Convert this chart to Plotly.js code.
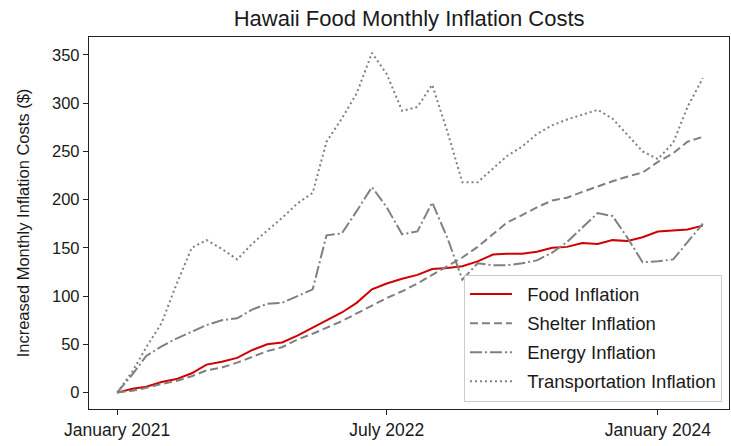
<!DOCTYPE html>
<html>
<head>
<meta charset="utf-8">
<script src="https://cdn.plot.ly/plotly-3.0.1.min.js"></script>
<style>html,body{margin:0;padding:0;background:#fff;}#chart{width:731px;height:446px;}</style>
</head>
<body>
<div id="chart"></div>
<script>
// Monthly observations, January 2021 through April 2024
const startYear = 2021;
const monthCount = 40;
const months = [];
for (let i = 0; i < monthCount; i++) {
  const y = startYear + Math.floor(i / 12);
  const m = (i % 12) + 1;
  months.push(y + "-" + String(m).padStart(2, "0") + "-01");
}

const foodInflation = [0,4,6,11,14,20,29,32,36,44,50,52,59,67,75,83,93,107,113,118,122,128,129,131,136,143,144,144,146,150,151,155,154,158,157,161,167,168,169,173];
const shelterInflation = [0,2,5,9,12,17,23,26,31,37,43,47,55,61,67,74,82,90,98,105,113,122,131,140,151,164,176,184,192,199,202,208,214,219,224,228,239,248,260,265];
const energyInflation = [0,19,38,48,56,63,70,75,77,86,92,93,100,107,163,165,188,213,192,164,167,197,160,117,134,132,132,134,137,145,156,171,186,183,160,135,136,138,156,175];
const transportationInflation = [0,22,47,72,112,150,158,149,138,154,168,181,196,207,260,284,310,352,330,292,296,319,270,218,218,232,245,255,268,277,283,288,293,284,267,250,242,259,296,326];

const seriesNames = ["Food Inflation","Shelter Inflation","Energy Inflation","Transportation Inflation"];
const tickDates = ["2021-01-01","2022-07-01","2024-01-01"];
const tickLabels = ["January 2021","July 2022","January 2024"];
const yTicks = [0,50,100,150,200,250,300,350];

const font = "Liberation Sans, Arial, sans-serif";
const ink = "#1a1a1a";

const traces = [
  {y: foodInflation, name: seriesNames[0], line: {color: "#d00000", width: 2, dash: "solid"}},
  {y: shelterInflation, name: seriesNames[1], line: {color: "#808080", width: 2, dash: "8px,4px"}},
  {y: energyInflation, name: seriesNames[2], line: {color: "#808080", width: 2, dash: "12px,3px,2px,3px"}},
  {y: transportationInflation, name: seriesNames[3], line: {color: "#808080", width: 2, dash: "2px,3px"}}
].map((t, i) => Object.assign({x: months, type: "scatter", mode: "lines", legendgroup: "g" + i}, t, {name: "\u00a0\u00a0" + t.name}));

const layout = {
  width: 731, height: 446,
  margin: {l: 89, r: 2, t: 37, b: 37},
  paper_bgcolor: "#fff", plot_bgcolor: "#fff",
  font: {family: font, size: 17, color: ink},
  title: {text: "Hawaii Food Monthly Inflation Costs", x: 0.5597, xanchor: "center", y: 0.96, yanchor: "middle", font: {family: font, size: 22, color: ink}},
  xaxis: {
    type: "date", range: ["2020-11-05", "2024-05-24"],
    tickmode: "array", tickvals: tickDates, ticktext: tickLabels,
    showgrid: false, zeroline: false,
    showline: true, mirror: true, linecolor: "#222", linewidth: 1.2,
    ticks: "outside", ticklen: 5, tickcolor: "#222", tickwidth: 1,
    tickfont: {family: font, size: 17.5, color: ink}
  },
  yaxis: {
    range: [-17, 368.5],
    tickmode: "array", tickvals: yTicks,
    showgrid: false, zeroline: false,
    showline: true, mirror: true, linecolor: "#222", linewidth: 1.2,
    ticks: "outside", ticklen: 5, tickcolor: "#222", tickwidth: 1,
    tickfont: {family: font, size: 16.5, color: ink},
    title: {text: "Increased Monthly Inflation Costs ($)", standoff: 18, font: {family: font, size: 16.5, color: ink}},
    automargin: false
  },
  showlegend: true,
  legend: {
    x: 0.989, xanchor: "right", y: 0.02, yanchor: "bottom",
    bgcolor: "rgba(255,255,255,0.85)", bordercolor: "#cccccc", borderwidth: 1,
    font: {family: font, size: 18.5, color: ink},
    itemwidth: 42, tracegroupgap: 2
  }
};

Plotly.newPlot("chart", traces, layout, {displayModeBar: false, staticPlot: true});
</script>
</body>
</html>
